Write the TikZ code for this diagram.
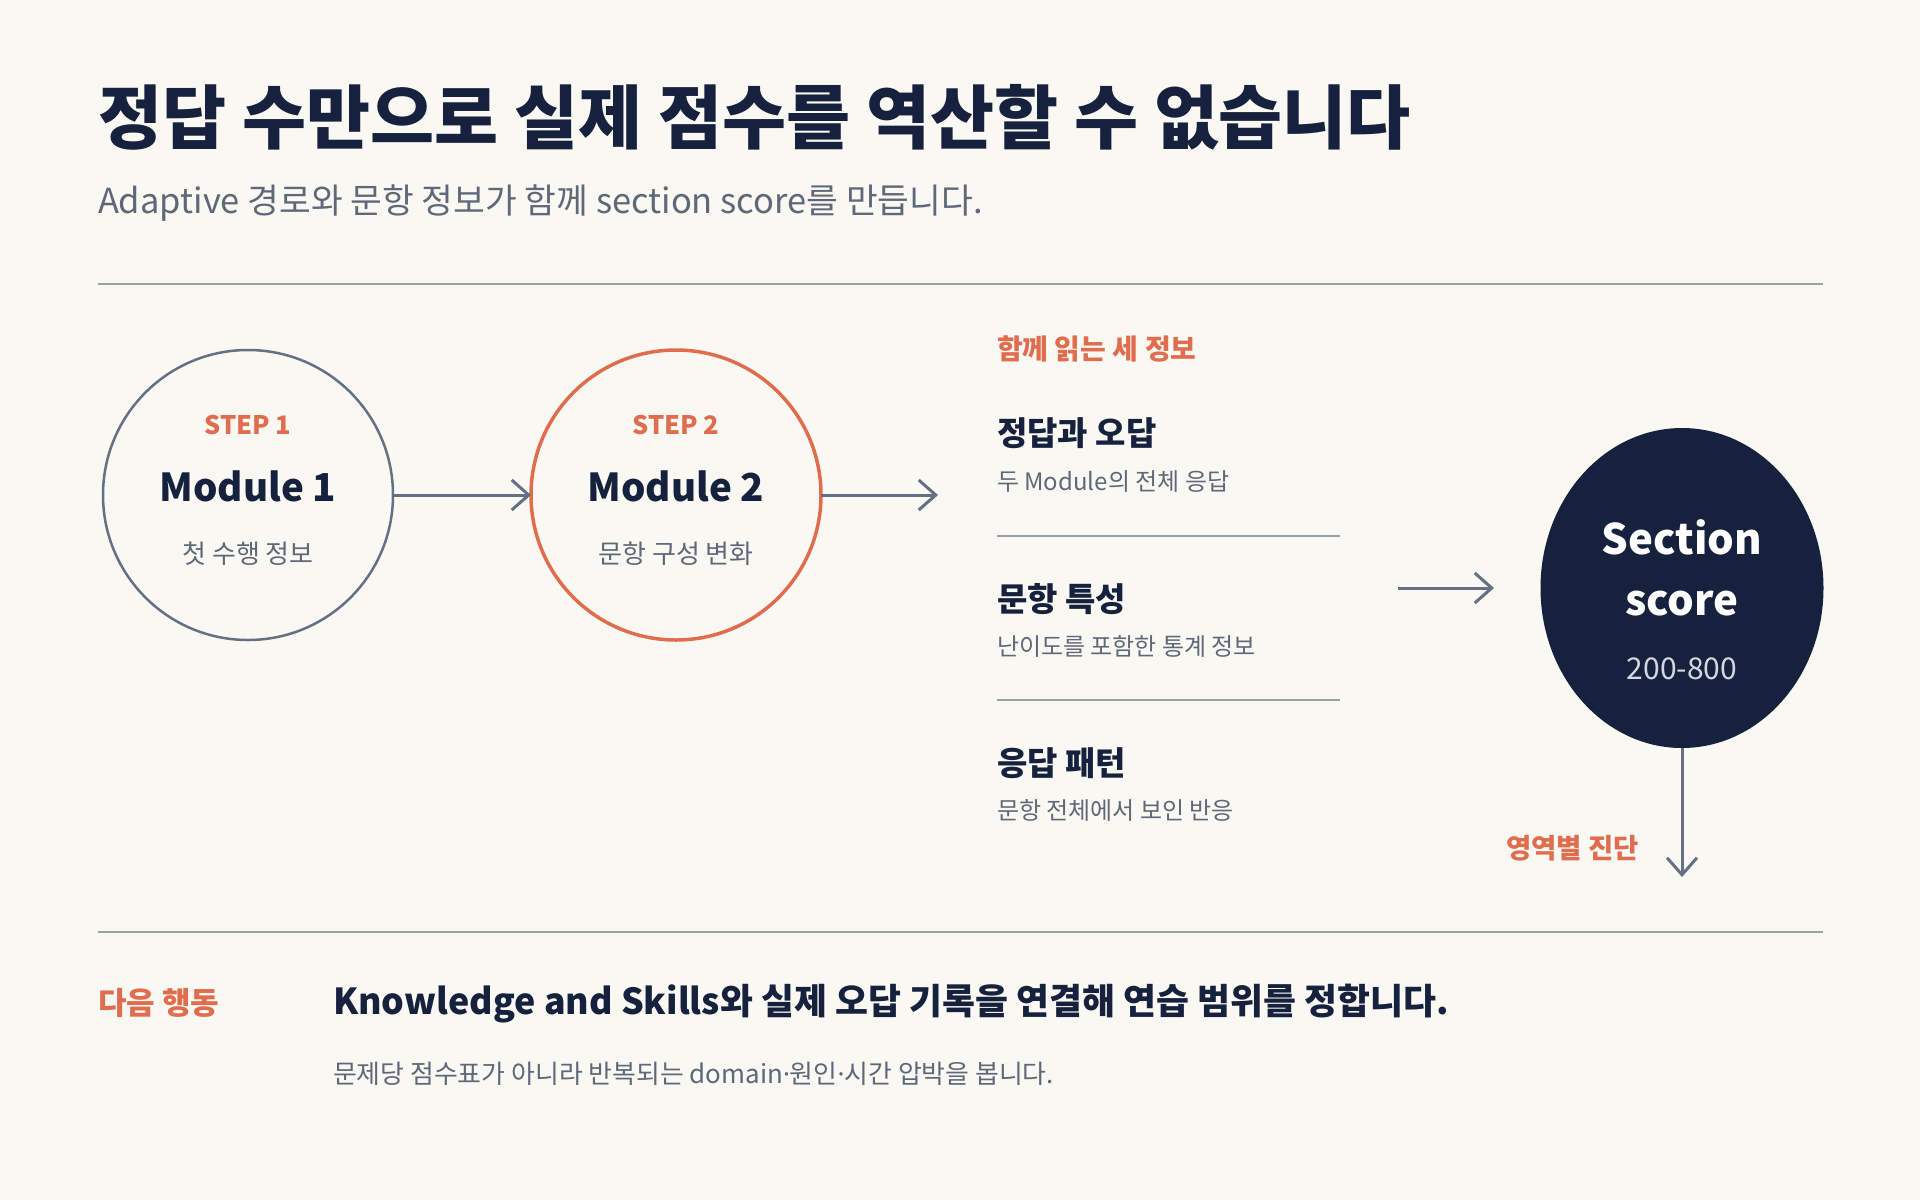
\documentclass[tikz,border=0pt]{standalone}
\usepackage{fontspec}
\usepackage{tikz}
\usetikzlibrary{arrows.meta,shapes.geometric}
\setmainfont{Noto Sans CJK KR}
\newfontfamily\dotfont{Noto Sans}
\newcommand{\fsz}[1]{\fontsize{#1}{#1}\selectfont}
\newcommand{\mdot}{{\dotfont ·}}

\definecolor{paper}{HTML}{FAF8F3}
\definecolor{navy}{HTML}{16213D}
\definecolor{coral}{HTML}{E06E4E}
\definecolor{slate}{HTML}{667085}
\definecolor{greytext}{HTML}{5F6878}
\definecolor{rulegrey}{HTML}{9AA1A8}
\definecolor{pale}{HTML}{D3D7DF}

\begin{document}
\begin{tikzpicture}[x=1pt,y=-1pt,
        txt/.style={inner sep=0pt,outer sep=0pt},
        lbl/.style={txt,anchor=west},
        arr/.style={draw=slate,line width=3pt,-{Straight Barb[length=17pt,width=30pt]}},
        rulel/.style={draw=rulegrey,line width=2pt}]
        \fill[paper] (0,0) rectangle (1920,1200);
        \useasboundingbox (0,0) rectangle (1920,1200);

        \node[lbl,text=navy,font=\bfseries\fsz{69.6}] (title) at (98,117) {정답 수만으로 실제 점수를 역산할 수 없습니다};
        \node[lbl,text=greytext,font=\fsz{34.5}] (sub) at (98,203) {Adaptive 경로와 문항 정보가 함께 section score를 만듭니다.};
        \draw[rulel] (98,284) -- (1823,284);

        \node[shape=circle,draw=slate,line width=2.5pt,minimum size=290pt,txt] (M1) at (248,495) {};
        \node[shape=circle,draw=coral,line width=3.5pt,minimum size=290pt,txt] (M2) at (676,495) {};
        \node[txt,text=coral,font=\bfseries\fsz{25.5}] (s1) at (248,425) {STEP 1};
        \node[txt,text=navy,font=\bfseries\fsz{38.5}] (m1) at (248,486) {Module 1};
        \node[txt,text=greytext,font=\fsz{26}] (d1) at (248,554) {첫 수행 정보};
        \node[txt,text=coral,font=\bfseries\fsz{25.5}] (s2) at (676,425) {STEP 2};
        \node[txt,text=navy,font=\bfseries\fsz{38.5}] (m2) at (676,486) {Module 2};
        \node[txt,text=greytext,font=\fsz{26}] (d2) at (676,554) {문항 구성 변화};
        \coordinate (out2) at (938,495);

        \draw[arr] (M1) -- (M2);
        \draw[arr] (M2) -- (out2);

        \node[lbl,text=coral,font=\bfseries\fsz{28}] (three) at (997,349) {함께 읽는 세 정보};
        \node[lbl,text=navy,font=\bfseries\fsz{33}] (i1) at (997,433) {정답과 오답};
        \node[lbl,text=greytext,font=\fsz{24}] (i1d) at (997,482) {두 Module의 전체 응답};
        \draw[rulel] (997,536) -- (1340,536);
        \node[lbl,text=navy,font=\bfseries\fsz{33}] (i2) at (997,599) {문항 특성};
        \node[lbl,text=greytext,font=\fsz{24}] (i2d) at (997,646) {난이도를 포함한 통계 정보};
        \draw[rulel] (997,700) -- (1340,700);
        \node[lbl,text=navy,font=\bfseries\fsz{33}] (i3) at (997,763) {응답 패턴};
        \node[lbl,text=greytext,font=\fsz{24}] (i3d) at (997,810) {문항 전체에서 보인 반응};

        \coordinate (in3) at (1398,588);
        \coordinate (to3) at (1494,588);
        \node[ellipse,fill=navy,minimum width=283pt,minimum height=320pt,txt] (SC) at (1682,588) {};
        \node[txt,text=white,font=\bfseries\fsz{42}] (sec) at (1682,537) {Section};
        \node[txt,text=white,font=\bfseries\fsz{42}] (score) at (1682,604) {score};
        \node[txt,text=pale,font=\fsz{30}] (rng) at (1682,669) {200-800};
        \coordinate (diag) at (1682,877);
        \node[lbl,text=coral,font=\bfseries\fsz{27.5}] (dx) at (1506,848) {영역별 진단};

        \draw[arr] (in3) -- (to3);
        \draw[arr] (SC) -- (diag);

        \draw[rulel] (98,932) -- (1823,932);
        \node[lbl,text=coral,font=\bfseries\fsz{31}] (next) at (98,1003) {다음 행동};
        \node[lbl,text=navy,font=\bfseries\fsz{35.8}] (act) at (333,1004) {Knowledge and Skills와 실제 오답 기록을 연결해 연습 범위를 정합니다.};
        \node[lbl,text=greytext,font=\fsz{25.9}] (actd) at (333,1074) {문제당 점수표가 아니라 반복되는 domain\mdot 원인\mdot 시간 압박을 봅니다.};
    \end{tikzpicture}
\end{document}
